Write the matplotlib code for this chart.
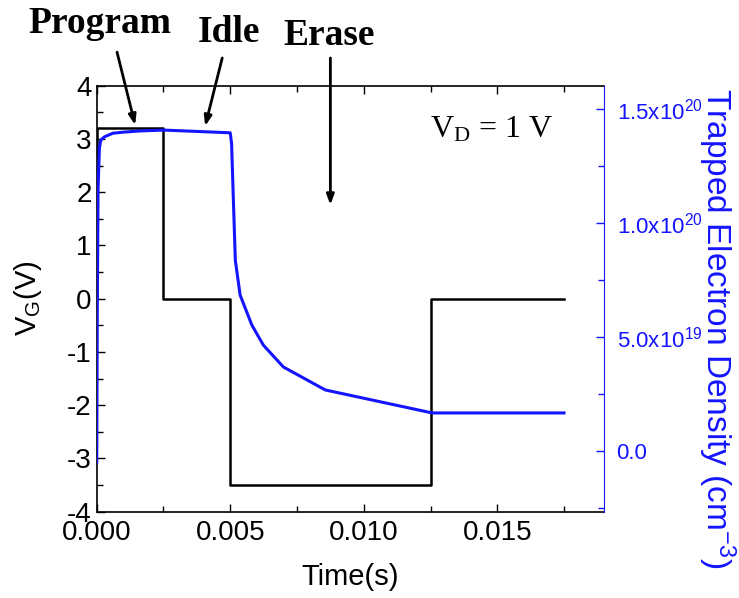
import matplotlib
matplotlib.use("Agg")
import matplotlib.pyplot as plt
from matplotlib.ticker import MultipleLocator, FuncFormatter

# gate voltage waveform (program / idle / erase / idle)
t_gate = [0.0, 0.0, 0.0025, 0.0025, 0.005, 0.005, 0.0125, 0.0125, 0.0175]
v_gate = [0.0, 3.2, 3.2, 0.0, 0.0, -3.5, -3.5, 0.0, 0.0]

# trapped electron density in the charge trap layer
t_trap = [0.0, 0.00002, 0.00005, 0.0001, 0.00015, 0.0003, 0.0006, 0.001,
          0.0016, 0.0025, 0.005, 0.00505, 0.00519, 0.00537, 0.00581,
          0.00624, 0.00699, 0.00856, 0.01256, 0.0175]
n_trap = [-5e18, 6.0e19, 1.15e20, 1.33e20, 1.365e20, 1.38e20, 1.395e20,
          1.40e20, 1.405e20, 1.409e20, 1.397e20, 1.35e20, 8.37e19, 6.84e19,
          5.52e19, 4.64e19, 3.68e19, 2.67e19, 1.66e19, 1.66e19]

density_ticks = [0.0, 5e19, 1e20, 1.5e20]

blue = "#1414ff"
plt.rcParams["font.family"] = ["Liberation Sans", "DejaVu Sans"]
plt.rcParams["mathtext.default"] = "regular"
plt.rcParams["axes.unicode_minus"] = False

fig = plt.figure(figsize=(7.39, 5.98), dpi=100)
ax = fig.add_axes([0.1309, 0.1443, 0.6865, 0.7124])
ax2 = ax.twinx()

ax.plot(t_gate, v_gate, color="black", lw=1.8, zorder=3)
ax2.plot(t_trap, n_trap, color=blue, lw=2.2)

ax.set_xlim(0, 0.019)
ax.set_ylim(-4, 4)
ax2.set_ylim(-2.68e19, 1.604e20)

ax.xaxis.set_major_locator(MultipleLocator(0.005))
ax.xaxis.set_minor_locator(MultipleLocator(0.0025))
ax.xaxis.set_major_formatter(FuncFormatter(lambda v, p: f"{v:.3f}"))
ax.yaxis.set_major_locator(MultipleLocator(1))
ax.yaxis.set_minor_locator(MultipleLocator(0.5))
ax.tick_params(which="both", direction="in", top=True, right=False,
               labelsize=20, width=1)
ax.tick_params(which="major", length=6)
ax.tick_params(which="minor", length=4)
ax.tick_params(axis="x", pad=6)

ax2.set_yticks(density_ticks)
ax2.yaxis.set_minor_locator(MultipleLocator(2.5e19))


def sci_label(v, pos):
    if v == 0:
        return "0.0"
    exp = len(str(int(v))) - 1
    return f"{v / 10**exp:.1f}x10$^{{{exp}}}$"


ax2.yaxis.set_major_formatter(FuncFormatter(sci_label))
ax2.tick_params(which="both", direction="in", colors=blue, labelsize=16,
                width=1, pad=9)
ax2.tick_params(which="major", length=6)
ax2.tick_params(which="minor", length=4)
ax2.spines["right"].set_color(blue)
for s in ["left", "top", "bottom"]:
    ax2.spines[s].set_visible(False)
for s in ["left", "top", "bottom"]:
    ax.spines[s].set_linewidth(1.2)
ax.spines["right"].set_visible(False)

ax.set_xlabel("Time(s)", fontsize=21, labelpad=12)
ax.set_ylabel("V$_G$(V)", fontsize=21)
ax.yaxis.set_label_coords(-0.103, 0.5)
ax2.set_ylabel("Trapped Electron Density (cm$^{-3}$)", fontsize=24,
               color=blue, rotation=270)
ax2.yaxis.set_label_coords(1.264, 0.43)

ax.text(0.0148, 3.03, "V$_D$ = 1 V", fontsize=23,
        family=["Liberation Serif", "DejaVu Serif"], ha="center",
        va="baseline")

# phase labels with arrows
serif_bold = dict(family=["Liberation Serif", "DejaVu Serif"],
                  weight="bold", fontsize=27, ha="center", va="baseline")
fig.text(99.5 / 739, 1 - 33 / 598, "Program", **serif_bold)
fig.text(229 / 739, 1 - 42 / 598, "Idle", **serif_bold)
fig.text(329 / 739, 1 - 45 / 598, "Erase", **serif_bold)

arrow = dict(arrowstyle="-|>,head_length=0.6,head_width=0.22",
             color="black", lw=2, shrinkA=0, shrinkB=0)
ax.annotate("", xy=(0.00144, 3.26), xytext=(0.00076, 4.63),
            arrowprops=arrow, annotation_clip=False)
ax.annotate("", xy=(0.00406, 3.24), xytext=(0.0047, 4.52),
            arrowprops=arrow, annotation_clip=False)
ax.annotate("", xy=(0.00875, 1.76), xytext=(0.00875, 4.52),
            arrowprops=arrow, annotation_clip=False)

fig.savefig("out.png", dpi=100)
